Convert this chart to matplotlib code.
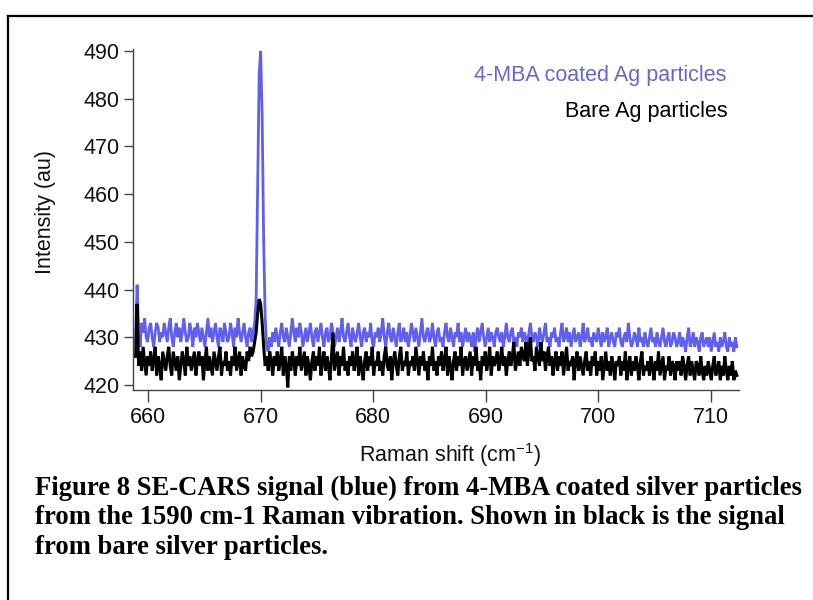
import numpy as np
import matplotlib
matplotlib.use("Agg")
import matplotlib.pyplot as plt
from matplotlib.lines import Line2D

# ---------------- data ----------------
x_start, x_end = 658.9, 712.3

coated = [
    429, 441, 432, 428, 433, 431, 434, 430, 429, 432, 433, 430, 428, 431, 433, 432, 429, 431, 430, 433,
    431, 429, 432, 434, 430, 428, 431, 433, 430, 432, 429, 431, 434, 431, 429, 430, 433, 431, 428, 432,
    430, 433, 431, 429, 432, 430, 428, 431, 434, 430, 432, 429, 431, 433, 430, 428, 432, 431, 429, 433,
    431, 429, 430, 433, 431, 428, 432, 430, 434, 431, 429, 431, 433, 430, 428, 431, 432, 429, 431, 433,
    438, 462, 485, 490, 476, 450, 434, 428, 427, 430, 428, 431, 429, 432, 430, 428, 431, 433, 430, 429,
    432, 430, 428, 431, 434, 431, 429, 432, 430, 433, 431, 428, 430, 432, 429, 431, 433, 430, 428, 431,
    432, 429, 431, 433, 430, 428, 431, 432, 429, 430, 433, 431, 428, 430, 432, 429, 431, 434, 430, 429,
    431, 433, 430, 428, 432, 430, 429, 431, 433, 430, 428, 431, 432, 429, 431, 430, 433, 429, 428, 431,
    430, 432, 429, 431, 434, 430, 428, 431, 433, 430, 429, 432, 430, 428, 431, 433, 429, 430, 432, 429,
    431, 428, 430, 433, 431, 429, 432, 430, 428, 431, 434, 430, 429, 431, 432, 429, 430, 433, 430, 428,
    431, 432, 429, 430, 428, 431, 433, 430, 429, 432, 430, 428, 431, 430, 433, 429, 431, 428, 430, 432,
    429, 431, 430, 428, 431, 427, 430, 432, 429, 431, 433, 430, 428, 430, 432, 429, 431, 430, 428, 431,
    432, 430, 429, 431, 428, 430, 433, 430, 429, 431, 432, 429, 430, 428, 431, 430, 432, 429, 431, 430,
    428, 431, 433, 430, 429, 431, 430, 428, 432, 430, 429, 431, 433, 429, 430, 428, 431, 430, 432, 429,
    430, 428, 431, 433, 429, 430, 432, 429, 431, 428, 430, 432, 429, 430, 431, 428, 430, 433, 429, 430,
    432, 429, 430, 428, 431, 430, 429, 432, 430, 428, 431, 429, 430, 432, 428, 430, 431, 429, 428, 431,
    430, 432, 429, 428, 430, 431, 429, 433, 430, 428, 429, 431, 430, 428, 432, 429, 430, 428, 431, 429,
    428, 430, 432, 429, 430, 428, 431, 429, 428, 430, 432, 429, 428, 430, 431, 428, 429, 431, 430, 428,
    429, 431, 428, 430, 429, 427, 430, 432, 428, 429, 431, 428, 430, 429, 427, 430, 431, 428, 429, 430,
    428, 430, 427, 429, 431, 428, 429, 427, 430, 428, 429, 431, 428, 427, 430, 428, 429, 427, 430, 428,
]

bare = [
    426, 437, 424, 427, 423, 428, 425, 422, 426, 424, 427, 423, 425, 428, 422, 426, 424, 421, 427, 425,
    423, 426, 428, 424, 422, 427, 425, 423, 426, 421, 424, 427, 425, 422, 428, 424, 426, 423, 425, 427,
    422, 425, 427, 424, 426, 421, 425, 428, 423, 426, 424, 422, 427, 425, 423, 426, 428, 422, 425, 424,
    427, 423, 425, 422, 426, 424, 428, 423, 425, 427, 422, 426, 424, 423, 427, 425, 428, 426, 427, 429,
    431, 435, 438, 437, 433, 428, 424, 426, 423, 427, 425, 422, 426, 424, 427, 423, 425, 428, 422, 426,
    424, 419.5, 426, 423, 427, 425, 422, 426, 424, 428, 423, 425, 427, 422, 426, 424, 421, 425, 427, 423,
    426, 424, 428, 422, 425, 427, 423, 426, 424, 421, 426, 431, 423, 425, 427, 422, 426, 424, 428, 423,
    425, 422, 426, 424, 427, 423, 425, 428, 422, 426, 424, 421, 425, 427, 423, 426, 424, 428, 422, 425,
    424, 427, 423, 425, 422, 426, 428, 424, 423, 426, 421, 425, 427, 424, 422, 426, 428, 423, 425, 424,
    427, 422, 425, 424, 426, 423, 428, 425, 422, 426, 424, 427, 423, 425, 421, 426, 424, 428, 423, 425,
    422, 426, 424, 427, 423, 425, 428, 422, 426, 424, 421, 425, 427, 423, 426, 424, 428, 422, 425, 426,
    423, 425, 427, 422, 426, 424, 428, 423, 425, 421, 426, 424, 427, 423, 425, 428, 422, 426, 424, 425,
    427, 423, 425, 428, 424, 426, 422, 425, 427, 424, 426, 429, 423, 425, 427, 424, 428, 426, 425, 429,
    424, 427, 430, 425, 426, 423, 428, 426, 424, 429, 425, 427, 423, 426, 428, 424, 426, 422, 425, 427,
    423, 426, 424, 427, 422, 425, 428, 423, 425, 424, 426, 421, 425, 427, 423, 426, 424, 422, 425, 427,
    423, 425, 422, 426, 424, 427, 422, 425, 423, 426, 421, 424, 427, 423, 425, 422, 426, 424, 421, 425,
    424, 426, 422, 425, 423, 427, 421, 424, 426, 422, 425, 423, 426, 424, 421, 425, 427, 422, 424, 423,
    425, 422, 426, 424, 421, 425, 423, 427, 422, 424, 426, 421, 424, 423, 426, 422, 425, 424, 421, 425,
    423, 425, 422, 426, 424, 421, 424, 426, 422, 425, 423, 421, 425, 424, 422, 426, 423, 421, 424, 422,
    425, 423, 421, 424, 426, 422, 423, 425, 421, 424, 422, 426, 423, 421, 424, 422, 425, 421, 423, 422,
]

x_ticks = [660, 670, 680, 690, 700, 710]
y_ticks = [420, 430, 440, 450, 460, 470, 480, 490]
label_coated = "4-MBA coated Ag particles"
label_bare = "Bare Ag particles"
caption_lines = [
    "Figure 8 SE-CARS signal (blue) from 4-MBA coated silver particles",
    "from the 1590 cm-1 Raman vibration. Shown in black is the signal",
    "from bare silver particles.",
]

# ---------------- figure ----------------
W, H = 813, 600
fig = plt.figure(figsize=(W / 100, H / 100), dpi=100)
fig.patch.set_facecolor("white")

def fx(px):
    return px / W

def fy(py):
    return 1 - py / H

ax = fig.add_axes([fx(133), fy(390), fx(739) - fx(133), fy(49) - fy(390)])

xc = np.linspace(x_start, x_end, len(coated))
xb = np.linspace(x_start, x_end, len(bare))
ax.plot(xc, coated, color="#5f5ff0", lw=2.0, solid_joinstyle="miter")
ax.plot(xb, bare, color="black", lw=2.2, solid_joinstyle="miter")

ax.set_xlim(658.67, 712.49)
ax.set_ylim(418.95, 490.4)
ax.set_xticks(x_ticks)
ax.set_yticks(y_ticks)

for s in ["top", "right"]:
    ax.spines[s].set_visible(False)
for s in ["left", "bottom"]:
    ax.spines[s].set_color("#444444")
    ax.spines[s].set_linewidth(1.0)

ax.tick_params(axis="x", direction="out", length=8.5, width=1.0, color="#444444", pad=4)
ax.tick_params(axis="y", direction="out", length=6.5, width=1.0, color="#444444", pad=3)
for lab in ax.get_xticklabels() + ax.get_yticklabels():
    lab.set_fontfamily("Liberation Sans")
    lab.set_fontsize(15.5)
    lab.set_color("#111111")

fig.text(fx(450), fy(455), r"Raman shift (cm$^{\mathregular{-1}}$)", ha="center", va="center",
         fontfamily="Liberation Sans", fontsize=15.5, color="#111111")
fig.text(fx(45), fy(212), "Intensity (au)", ha="center", va="center", rotation=90,
         fontfamily="Liberation Sans", fontsize=15.5, color="#111111")

fig.text(fx(726), fy(76), label_coated, ha="right", va="center",
         fontfamily="Liberation Sans", fontsize=15.5, color="#6666d6")
fig.text(fx(728), fy(111), label_bare, ha="right", va="center",
         fontfamily="Liberation Sans", fontsize=15.5, color="black")

cap_y = [488, 518, 548]
for line, yy in zip(caption_lines, cap_y):
    fig.text(fx(35), fy(yy), line, ha="left", va="center",
             fontfamily="Liberation Serif", fontweight="bold", fontsize=19.2, color="black")

# outer frame (top and left edges of the page box)
fig.add_artist(Line2D([fx(8), fx(813)], [fy(16), fy(16)], color="black", lw=1.6))
fig.add_artist(Line2D([fx(8), fx(8)], [fy(16), fy(600)], color="black", lw=1.6))

fig.savefig("out.png", dpi=100)
